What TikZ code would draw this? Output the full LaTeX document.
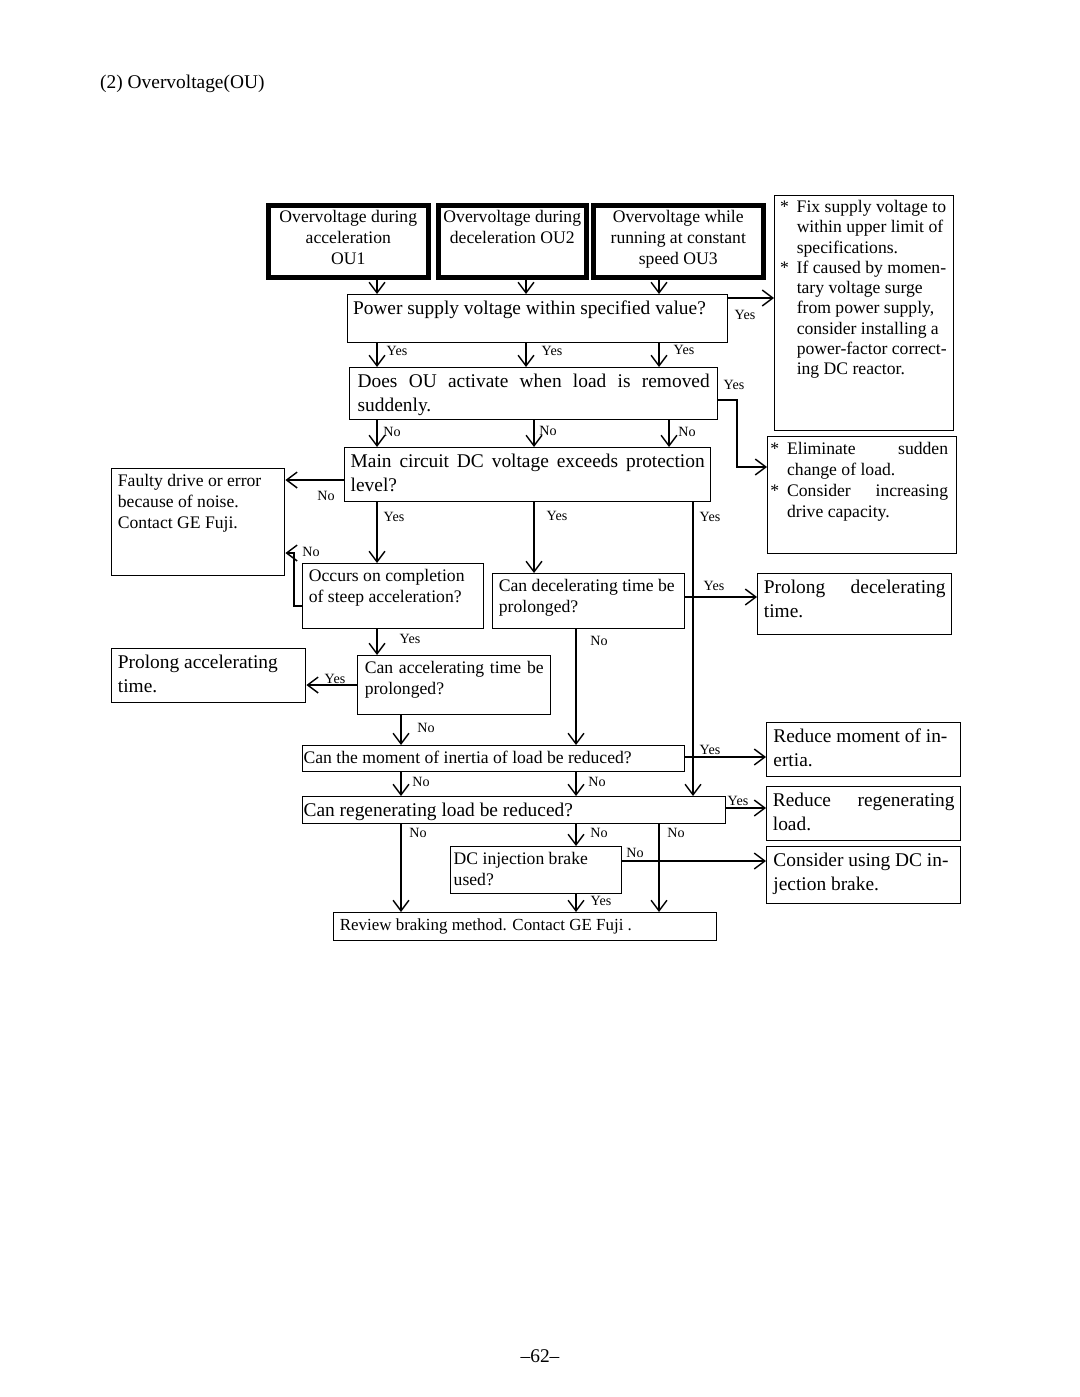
\documentclass[tikz,border=0pt]{standalone}
\usepackage{fontspec}
\setmainfont{Liberation Serif}
\usetikzlibrary{arrows.meta}
\newdimen\px \px=0.567pt
\newcommand\bx[4][3.5pt]{\parbox[c][#3\px][t]{#2\px}{\vspace*{1.5pt}\hspace*{#1}\parbox[t]{\dimexpr#2\px-#1-#1\relax}{\strut#4}}}
\begin{document}
\begin{tikzpicture}[x=0.567pt,y=-0.567pt,
  box/.style={draw,line width=.8pt,inner sep=0pt,anchor=north west,font=\fontsize{10}{11.9}\selectfont},
  bigbox/.style={box,font=\fontsize{11}{13.6}\selectfont},
  oubox/.style={box,line width=2.6pt},
  lbl/.style={font=\fontsize{8}{9}\selectfont,inner sep=0pt},
  arr/.style={line width=.8pt,-{Straight Barb[length=6pt,width=9pt]}}]
\useasboundingbox (0,0) rectangle (1080,1397);
\node[anchor=west,font=\fontsize{11}{13}\selectfont] (title) at (94,84) {(2) Overvoltage(OU)};
\node[oubox] (ouacc) at (266,203) {\bx{160}{72}{\centering Overvoltage during\\acceleration\\OU1}};
\node[oubox] (oudec) at (436,203) {\bx[1pt]{148}{72}{\centering Overvoltage during\\deceleration OU2}};
\node[oubox] (oucon) at (591,203) {\bx{170}{72}{\centering Overvoltage while\\running at constant\\speed OU3}};
\node[bigbox] (qsupply) at (347,294) {\bx[3pt]{380}{48}{Power supply voltage within specified value?}};
\node[box,font=\fontsize{10}{11.5}\selectfont] (rsupply) at (774,195) {\bx[1pt]{179}{235}{\raggedright\leftskip=11.5pt\relax\llap{*\hspace{4.5pt}}Fix supply voltage to\\within upper limit of\\specifications.\\\leavevmode\llap{*\hspace{4.5pt}}If caused by momen-\\tary voltage surge\\from power supply,\\consider installing a\\power-factor correct-\\ing DC reactor.}};
\node[bigbox] (qload) at (349,367) {\bx[4.5pt]{368}{52}{\makebox[\linewidth][s]{Does OU activate when load is removed}\\suddenly.}};
\node[box] (rload) at (767,436) {\bx[6pt]{189}{117}{\leftskip=5pt\relax\llap{*\hspace{4.5pt}}\rlap{\makebox[161\px][s]{Eliminate\hfill sudden}}\\change of load.\\\llap{*\hspace{4.5pt}}\rlap{\makebox[161\px][s]{Consider\hfill increasing}}\\drive capacity.}};
\node[bigbox] (qdc) at (344,447) {\bx[3.4pt]{366}{54}{\makebox[\linewidth][s]{Main circuit DC voltage exceeds protection}\\level?}};
\node[box] (rfault) at (111,468) {\bx{173}{107}{Faulty drive or error\\because of noise.\\Contact GE Fuji.}};
\node[box] (qsteep) at (302,563) {\bx{181}{65}{Occurs on completion\\of steep acceleration?}};
\node[box] (qdecel) at (492,573) {\bx{192}{55}{Can decelerating time be\\prolonged?}};
\node[bigbox] (rdecel) at (757,573) {\bx{194}{61}{\makebox[\linewidth][s]{Prolong decelerating}\\time.}};
\node[box] (qaccel) at (357,655) {\bx[4pt]{193}{59}{\makebox[\linewidth][s]{Can accelerating time be}\\prolonged?}};
\node[bigbox] (raccel) at (111,648) {\bx{194}{54}{Prolong accelerating\\time.}};
\node[box] (qinertia) at (302,745) {\bx[.5pt]{382}{26}{Can the moment of inertia of load be reduced?}};
\node[bigbox] (rinertia) at (766,722) {\bx[3.8pt]{194}{54}{Reduce moment of in-\\ertia.}};
\node[bigbox] (qregen) at (302,796) {\bx[.5pt]{423}{27}{Can regenerating load be reduced?}};
\node[bigbox] (rregen) at (766,786) {\bx{194}{54}{\makebox[\linewidth][s]{Reduce regenerating}\\load.}};
\node[box] (qbrake) at (450,846) {\bx[1.7pt]{171}{47}{DC injection brake\\used?}};
\node[bigbox] (rbrake) at (766,846) {\bx[3.8pt]{194}{57}{Consider using DC in-\\jection brake.}};
\node[box,font=\fontsize{9.6}{11.9}\selectfont] (rreview) at (333,912) {\bx{383}{28}{Review braking method. Contact GE Fuji .}};
\node[font=\fontsize{11}{13}\selectfont] (pnum) at (540,1356) {--62--};
\coordinate (ca) at (377,0);
\coordinate (cb) at (526,0);
\coordinate (cbb) at (534,0);
\coordinate (cc) at (659,0);
\coordinate (ccc) at (669,0);
\coordinate (cd) at (693,0);
\coordinate (ce) at (294,0);
\coordinate (cf) at (576,0);
\coordinate (cg) at (401,0);
\coordinate (cq) at (737,0);
\coordinate (ra) at (0,298);
\coordinate (rb) at (0,400);
\coordinate (rc) at (0,467);
\coordinate (rf) at (0,480);
\coordinate (re) at (0,553);
\coordinate (rg) at (0,597);
\coordinate (rd) at (0,606);
\coordinate (rh) at (0,685);
\coordinate (ri) at (0,757);
\coordinate (rj) at (0,808);
\coordinate (rk) at (0,861);
\draw[arr] (ouacc.south -| ca) -- (qsupply.north -| ca);
\draw[arr] (oudec.south -| cb) -- (qsupply.north -| cb);
\draw[arr] (oucon.south -| cc) -- (qsupply.north -| cc);
\draw[arr] (qsupply.east |- ra) -- (rsupply.west |- ra);
\draw[arr] (qsupply.south -| ca) -- (qload.north -| ca);
\draw[arr] (qsupply.south -| cb) -- (qload.north -| cb);
\draw[arr] (qsupply.south -| cc) -- (qload.north -| cc);
\draw[arr] (qload.east |- rb) -| (cq |- rc) -- (rload.west |- rc);
\draw[arr] (qload.south -| ca) -- (qdc.north -| ca);
\draw[arr] (qload.south -| cbb) -- (qdc.north -| cbb);
\draw[arr] (qload.south -| ccc) -- (qdc.north -| ccc);
\draw[arr] (qdc.west |- rf) -- (rfault.east |- rf);
\draw[arr] (qdc.south -| ca) -- (qsteep.north -| ca);
\draw[arr] (qdc.south -| cbb) -- (qdecel.north -| cbb);
\draw[arr] (qdc.south -| cd) -- (qregen.north -| cd);
\draw[arr] (qsteep.west |- rd) -- (ce |- rd) -- (ce |- re) -- (rfault.east |- re);
\draw[arr] (qsteep.south -| ca) -- (qaccel.north -| ca);
\draw[arr] (qdecel.east |- rg) -- (rdecel.west |- rg);
\draw[arr] (qdecel.south -| cf) -- (qinertia.north -| cf);
\draw[arr] (qaccel.west |- rh) -- (raccel.east |- rh);
\draw[arr] (qaccel.south -| cg) -- (qinertia.north -| cg);
\draw[arr] (qinertia.east |- ri) -- (rinertia.west |- ri);
\draw[arr] (qinertia.south -| cg) -- (qregen.north -| cg);
\draw[arr] (qinertia.south -| cf) -- (qregen.north -| cf);
\draw[arr] (qregen.east |- rj) -- (rregen.west |- rj);
\draw[arr] (qregen.south -| cg) -- (rreview.north -| cg);
\draw[arr] (qregen.south -| cf) -- (qbrake.north -| cf);
\draw[arr] (qregen.south -| cc) -- (rreview.north -| cc);
\draw[arr] (qbrake.east |- rk) -- (rbrake.west |- rk);
\draw[arr] (qbrake.south -| cf) -- (rreview.north -| cf);
\node[lbl] (ysa) at (397,351) {Yes};
\node[lbl] (ysb) at (552,351) {Yes};
\node[lbl] (ysc) at (684,350) {Yes};
\node[lbl] (yso) at (745,315) {Yes};
\node[lbl] (yld) at (734,385) {Yes};
\node[lbl] (nla) at (392,432) {No};
\node[lbl] (nlb) at (548,431) {No};
\node[lbl] (nlc) at (687,432) {No};
\node[lbl] (ndc) at (326,496) {No};
\node[lbl] (ydca) at (394,517) {Yes};
\node[lbl] (ydcb) at (557,516) {Yes};
\node[lbl] (ydcc) at (710,517) {Yes};
\node[lbl] (nst) at (311,552) {No};
\node[lbl] (yde) at (714,586) {Yes};
\node[lbl] (nde) at (599,641) {No};
\node[lbl] (yst) at (410,639) {Yes};
\node[lbl] (yac) at (335,679) {Yes};
\node[lbl] (nac) at (426,728) {No};
\node[lbl] (yin) at (710,750) {Yes};
\node[lbl] (nina) at (421,782) {No};
\node[lbl] (ninb) at (597,782) {No};
\node[lbl] (yre) at (738,801) {Yes};
\node[lbl] (nrea) at (418,833) {No};
\node[lbl] (nreb) at (599,833) {No};
\node[lbl] (nrec) at (676,833) {No};
\node[lbl] (nbr) at (635,853) {No};
\node[lbl] (ybr) at (601,901) {Yes};
\end{tikzpicture}
\end{document}
